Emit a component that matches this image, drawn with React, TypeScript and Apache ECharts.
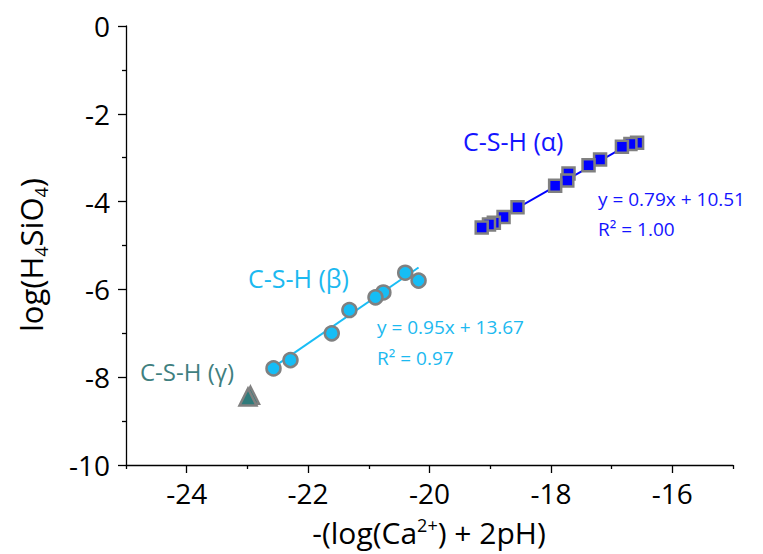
import React, { useEffect, useRef } from 'react';
import * as echarts from 'echarts';

// C-S-H (alpha) points, drawn right-to-left so the lower-left ones lie on top
const alphaX = [-16.58, -16.69, -16.83, -17.19, -17.38, -17.71, -17.73, -17.93, -18.55, -18.78, -18.94, -19.02, -19.14];
const alphaY = [-2.66, -2.69, -2.75, -3.04, -3.17, -3.36, -3.52, -3.64, -4.13, -4.35, -4.48, -4.52, -4.59];

// C-S-H (beta) points
const betaX = [-20.18, -20.40, -20.76, -20.89, -21.32, -21.61, -22.29, -22.57];
const betaY = [-5.80, -5.62, -6.07, -6.18, -6.47, -7.00, -7.61, -7.80];

// C-S-H (gamma) points
const gammaX = [-22.95, -22.99];
const gammaY = [-8.41, -8.45];

// linear fits
const alphaFit = { slope: 0.79, intercept: 10.51 };
const betaFit = { slope: 0.95, intercept: 13.67 };

const xTickLabels = [-24, -22, -20, -18, -16];

const FONT = 'Open Sans';

function pairs(xs: number[], ys: number[]) {
  return xs.map((x, i) => [x, ys[i]]);
}

function fitLine(xs: number[], fit: { slope: number; intercept: number }) {
  const lo = Math.min(...xs);
  const hi = Math.max(...xs);
  return [
    [lo, fit.slope * lo + fit.intercept],
    [hi, fit.slope * hi + fit.intercept],
  ];
}

export default function App() {
  const ref = useRef<HTMLDivElement>(null);

  useEffect(() => {
    const chart = echarts.init(ref.current!, null, { renderer: 'svg' });
    const axisLineStyle = { color: '#000', width: 1.3 };
    const option: any = {
      animation: false,
      backgroundColor: '#ffffff',
      grid: { left: 126, right: 30, top: 26, bottom: 89, outerBoundsMode: 'none' },
      xAxis: {
        type: 'value',
        min: -25,
        max: -15,
        interval: 2,
        axisLine: { show: true, onZero: false, lineStyle: axisLineStyle },
        axisTick: { show: true, length: 4, lineStyle: axisLineStyle },
        minorTick: { show: true, splitNumber: 2, length: 8, lineStyle: axisLineStyle },
        axisLabel: {
          customValues: xTickLabels,
          margin: 14,
          fontSize: 28,
          fontFamily: FONT,
          color: '#000',
        },
        splitLine: { show: false },
        minorSplitLine: { show: false },
      },
      yAxis: {
        type: 'value',
        min: -10,
        max: 0,
        interval: 2,
        axisLine: { show: true, onZero: false, lineStyle: axisLineStyle },
        axisTick: { show: true, length: 8, lineStyle: axisLineStyle },
        minorTick: { show: true, splitNumber: 2, length: 4, lineStyle: axisLineStyle },
        axisLabel: { margin: 16, fontSize: 28, fontFamily: FONT, color: '#000' },
        splitLine: { show: false },
        minorSplitLine: { show: false },
      },
      series: [
        {
          type: 'line',
          data: fitLine(alphaX, alphaFit),
          showSymbol: false,
          symbol: 'none',
          lineStyle: { color: '#0000ff', width: 2 },
          z: 1,
        },
        {
          type: 'line',
          data: fitLine(betaX, betaFit),
          showSymbol: false,
          symbol: 'none',
          lineStyle: { color: '#19bdf5', width: 2 },
          z: 1,
        },
        {
          type: 'scatter',
          data: pairs(alphaX, alphaY),
          symbol: 'rect',
          symbolSize: 12,
          itemStyle: { color: '#0000ff', borderColor: '#808080', borderWidth: 2.5, opacity: 1 },
          z: 3,
        },
        {
          type: 'scatter',
          data: pairs(betaX, betaY),
          symbol: 'circle',
          symbolSize: 14,
          itemStyle: { color: '#16bdf5', borderColor: '#808080', borderWidth: 2.5, opacity: 1 },
          z: 3,
        },
        {
          type: 'scatter',
          data: pairs(gammaX, gammaY),
          symbol: 'triangle',
          symbolSize: 17,
          itemStyle: { color: '#2f7b7b', borderColor: '#808080', borderWidth: 2.5, opacity: 1 },
          z: 3,
        },
      ],
      graphic: [
        {
          type: 'text',
          x: 429,
          y: 532,
          style: {
            text: '{a|-(log(Ca}{s|2+}{a|) + 2pH)}',
            align: 'center',
            verticalAlign: 'middle',
            fill: '#000',
            rich: {
              a: { fontSize: 30, fontFamily: FONT, lineHeight: 32, fill: '#000' },
              s: { fontSize: 18, fontFamily: FONT, lineHeight: 14, verticalAlign: 'top', fill: '#000' },
            },
          },
        },
        {
          type: 'text',
          x: 31,
          y: 255,
          rotation: Math.PI / 2,
          style: {
            text: '{a|log(H}{s|4}{a|SiO}{s|4}{a|)}',
            align: 'center',
            verticalAlign: 'middle',
            fill: '#000',
            rich: {
              a: { fontSize: 31, fontFamily: FONT, lineHeight: 38, fill: '#000' },
              s: { fontSize: 18, fontFamily: FONT, lineHeight: 20, verticalAlign: 'bottom', fill: '#000' },
            },
          },
        },
        {
          type: 'text', x: 463, y: 141,
          style: { text: 'C-S-H (α)', fontSize: 25, fontFamily: FONT, fill: '#1414ff', align: 'left', verticalAlign: 'middle' },
        },
        {
          type: 'text', x: 598, y: 199,
          style: { text: 'y = 0.79x + 10.51', fontSize: 19, fontFamily: FONT, fill: '#1414ff', align: 'left', verticalAlign: 'middle' },
        },
        {
          type: 'text', x: 598, y: 229,
          style: { text: 'R² = 1.00', fontSize: 19, fontFamily: FONT, fill: '#1414ff', align: 'left', verticalAlign: 'middle' },
        },
        {
          type: 'text', x: 248, y: 278,
          style: { text: 'C-S-H (β)', fontSize: 25, fontFamily: FONT, fill: '#1cb9f0', align: 'left', verticalAlign: 'middle' },
        },
        {
          type: 'text', x: 377, y: 327,
          style: { text: 'y = 0.95x + 13.67', fontSize: 19, fontFamily: FONT, fill: '#1cb9f0', align: 'left', verticalAlign: 'middle' },
        },
        {
          type: 'text', x: 377, y: 358,
          style: { text: 'R² = 0.97', fontSize: 19, fontFamily: FONT, fill: '#1cb9f0', align: 'left', verticalAlign: 'middle' },
        },
        {
          type: 'text', x: 140, y: 371,
          style: { text: 'C-S-H (γ)', fontSize: 24, fontFamily: FONT, fill: '#3f7f80', align: 'left', verticalAlign: 'middle' },
        },
      ],
    };
    chart.setOption(option);
    return () => chart.dispose();
  }, []);

  return (
    <div
      ref={ref}
      style={{ position: 'fixed', left: 0, top: 0, width: 763, height: 554, background: '#fff' }}
    />
  );
}
